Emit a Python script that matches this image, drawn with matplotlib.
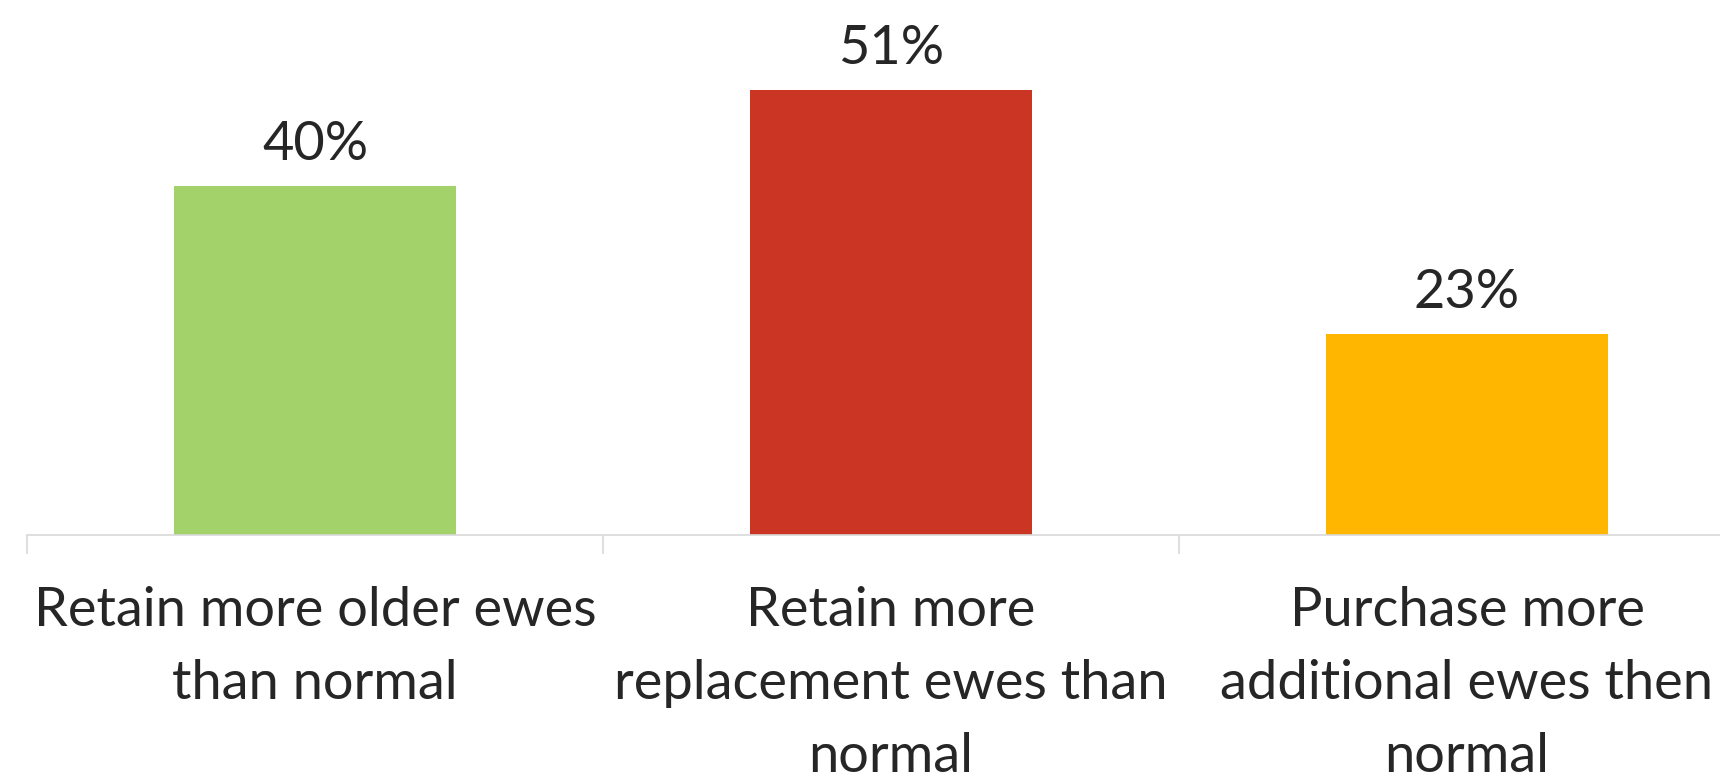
import matplotlib

matplotlib.use("Agg")
import matplotlib.pyplot as plt

categories = [
    "Retain more older ewes\nthan normal",
    "Retain more\nreplacement ewes than\nnormal",
    "Purchase more\nadditional ewes then\nnormal",
]
values = [40, 51, 23]
colors = ["#A3D16A", "#CB3524", "#FFB600"]

plt.rcParams["font.family"] = ["Lato", "DejaVu Sans"]
text_color = "#262626"

fig = plt.figure(figsize=(17.2, 7.79), dpi=100)
# axes spans a bit past the right edge, as in the cropped original
ax = fig.add_axes([27 / 1720, 1 - 535 / 779, 1728 / 1720, 535 / 779])

x = list(range(len(values)))
ax.bar(x, values, width=0.49, color=colors)
for xi, v in zip(x, values):
    ax.annotate(f"{v}%", (xi, v), xytext=(0, 12.5), textcoords="offset points",
                ha="center", va="bottom", fontsize=39, color=text_color)

ax.set_xlim(-0.5, 2.5)
ax.set_ylim(0, 61.35)

ax.set_xticks(x)
ax.set_xticklabels(categories, fontsize=39, color=text_color, linespacing=1.6)
ax.tick_params(axis="x", which="major", length=0, pad=37)
ax.set_xticks([-0.5, 0.5, 1.5, 2.5], minor=True)
ax.tick_params(axis="x", which="minor", length=14, width=1.2, color="#D9D9D9")
ax.set_yticks([])

for side in ["top", "right", "left"]:
    ax.spines[side].set_visible(False)
ax.spines["bottom"].set_color("#D9D9D9")
ax.spines["bottom"].set_linewidth(1.2)

fig.savefig("out.png", dpi=100)
